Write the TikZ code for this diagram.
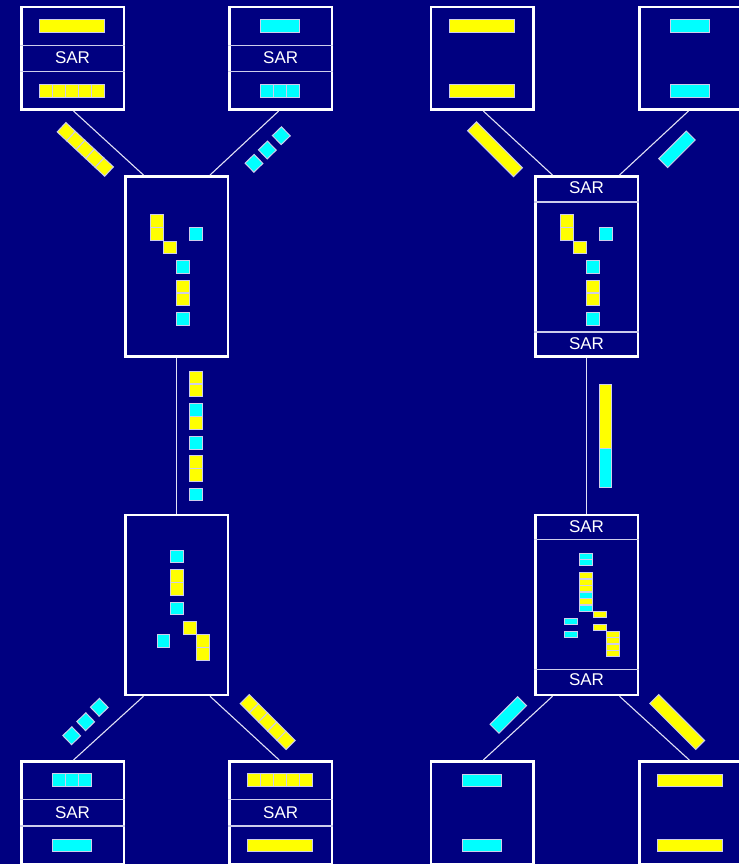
\documentclass[tikz,border=0pt]{standalone}
\usepackage{fontspec}
\setmainfont{Liberation Sans}
\definecolor{bg}{RGB}{0,0,128}
\definecolor{yel}{RGB}{255,255,0}
\definecolor{cya}{RGB}{0,255,255}
\definecolor{cellb}{RGB}{205,205,235}
\definecolor{linec}{RGB}{225,225,245}
\definecolor{divc}{RGB}{205,205,235}
\newcommand\onecell[3]{\filldraw[#1] ({#2+0.4},{#3+0.4}) rectangle ++(12.6,12.6);}
\newcommand\halfcell[3]{\filldraw[#1] ({#2+0.4},{#3+0.4}) rectangle ++(12.6,5.9);}
\newcommand\hcells[5]{\foreach \i in {1,...,#4} \filldraw[#1] ({#2+(\i-1)*13},#3) rectangle ++(13,#5);}
\begin{document}
\begin{tikzpicture}[x=1pt,y=-1pt,
  box/.style={draw=white, line width=2.5pt, minimum width=102.5pt, minimum height=102.5pt, inner sep=0pt},
  tall/.style={box, minimum height=180pt},
  conn/.style={draw=linec, line width=1.1pt},
  divider/.style={draw=divc, line width=1.4pt},
  lbl/.style={text=white, font=\fontsize{17}{17}\selectfont, inner sep=0pt},
  ycell/.style={fill=yel, draw=cellb, line width=1pt},
  ccell/.style={fill=cya, draw=cellb, line width=1pt}]
\fill[bg] (0,0) rectangle (739,864);
\useasboundingbox (0,0) rectangle (739,864);
\clip (0,0) rectangle (739,864);

% ---------- boxes ----------
\node[box] (t1) at (72.5,58.5) {};
\node[box] (t2) at (280.7,58.5) {};
\node[box] (t3) at (482.3,58.5) {};
\node[box] (t4) at (690.5,58.5) {};
\node[tall] (m1) at (176.5,266.3) {};
\node[tall] (m2) at (176.5,605) {};
\node[tall] (m3) at (586.5,266.3) {};
\node[tall] (m4) at (586.5,605) {};
\node[box] (b1) at (72.5,812.5) {};
\node[box] (b2) at (280.7,812.5) {};
\node[box] (b3) at (482.3,812.5) {};
\node[box] (b4) at (690.5,812.5) {};

% ---------- dividers ----------
\foreach \b in {t1,t2}{
  \draw[divider] (\b.west |- 0,45.7) -- (\b.east |- 0,45.7);
  \draw[divider] (\b.west |- 0,71.7) -- (\b.east |- 0,71.7);
}
\foreach \b in {b1,b2}{
  \draw[divider] (\b.west |- 0,799.3) -- (\b.east |- 0,799.3);
  \draw[divider] (\b.west |- 0,826) -- (\b.east |- 0,826);
}
\draw[divider] (m3.west |- 0,202) -- (m3.east |- 0,202);
\draw[divider] (m3.west |- 0,332) -- (m3.east |- 0,332);
\draw[divider] (m4.west |- 0,539.3) -- (m4.east |- 0,539.3);
\draw[divider] (m4.west |- 0,669.3) -- (m4.east |- 0,669.3);

% ---------- labels ----------
\node[lbl] (s1) at (72.5,57.9) {SAR};
\node[lbl] (s2) at (280.7,57.9) {SAR};
\node[lbl] (s3) at (72.5,813) {SAR};
\node[lbl] (s4) at (280.7,813) {SAR};
\node[lbl] (s5) at (586.5,187.8) {SAR};
\node[lbl] (s6) at (586.5,343.7) {SAR};
\node[lbl] (s7) at (586.5,527) {SAR};
\node[lbl] (s8) at (586.5,679.7) {SAR};

% ---------- connectors ----------
\draw[conn] ([xshift=1pt]t1.south) -- ([xshift=-33pt]m1.north);
\draw[conn] ([xshift=-2pt]t2.south) -- ([xshift=33.5pt]m1.north);
\draw[conn] (m1.south) -- (m2.north);
\draw[conn] ([xshift=-33pt]m2.south) -- ([xshift=1pt]b1.north);
\draw[conn] ([xshift=33.5pt]m2.south) -- ([xshift=-1.5pt]b2.north);
\draw[conn] ([xshift=1pt]t3.south) -- ([xshift=-34pt]m3.north);
\draw[conn] ([xshift=-2pt]t4.south) -- ([xshift=33pt]m3.north);
\draw[conn] (m3.south) -- (m4.north);
\draw[conn] ([xshift=-34pt]m4.south) -- ([xshift=1pt]b3.north);
\draw[conn] ([xshift=33pt]m4.south) -- ([xshift=-1.2pt]b4.north);

% ---------- contents of end boxes ----------
\filldraw[ycell] (39.8,19.5) rectangle (104.8,32.2);
\hcells{ycell}{39.8}{84.5}{5}{13.2}
\filldraw[ccell] (260.8,19.5) rectangle (299.8,32.2);
\hcells{ccell}{260.8}{84.5}{3}{13.2}
\filldraw[ycell] (449.8,19.8) rectangle (514.8,32.2);
\filldraw[ycell] (449.8,84.8) rectangle (514.8,97.2);
\filldraw[ccell] (670.8,19.8) rectangle (709.8,32.2);
\filldraw[ccell] (670.8,84.8) rectangle (709.8,97.2);
\hcells{ccell}{52.8}{773.8}{3}{13}
\filldraw[ccell] (52.8,839.2) rectangle (91.8,851.8);
\hcells{ycell}{247.8}{773.8}{5}{13}
\filldraw[ycell] (247.8,839.2) rectangle (312.8,851.8);
\filldraw[ccell] (462.8,774.2) rectangle (501.5,786.5);
\filldraw[ccell] (462.8,839.2) rectangle (501.5,851.5);
\filldraw[ycell] (657.5,774.2) rectangle (722.8,786.5);
\filldraw[ycell] (657.5,839.2) rectangle (722.8,851.5);

% ---------- middle box 1 and 3 cells ----------
\foreach \dx in {0,410}{
  \onecell{ycell}{150+\dx}{214.3}
  \onecell{ycell}{150+\dx}{227.3}
  \onecell{ycell}{163.3+\dx}{240.7}
  \onecell{ccell}{189+\dx}{227.3}
  \onecell{ccell}{176.3+\dx}{260}
  \onecell{ycell}{176.3+\dx}{279.7}
  \onecell{ycell}{176.3+\dx}{292.7}
  \onecell{ccell}{176.3+\dx}{312.3}
}
% ---------- vertical stream left ----------
\onecell{ycell}{189}{370.7}
\onecell{ycell}{189}{383.7}
\onecell{ccell}{189}{403.3}
\onecell{ycell}{189}{416.3}
\onecell{ccell}{189}{436}
\onecell{ycell}{189}{455.3}
\onecell{ycell}{189}{468.3}
\onecell{ccell}{189}{487.7}
% ---------- middle box 2 ----------
\onecell{ccell}{170}{549.7}
\onecell{ycell}{170}{569.3}
\onecell{ycell}{170}{582.3}
\onecell{ccell}{170}{601.7}
\onecell{ycell}{183}{621}
\onecell{ccell}{156.7}{634.3}
\onecell{ycell}{196}{634.3}
\onecell{ycell}{196}{647.3}
% ---------- vertical bar right ----------
\filldraw[ycell] (599.4,384.4) rectangle (611.9,448.7);
\filldraw[ccell] (599.4,448.7) rectangle (611.9,487.6);
% ---------- middle box 4 (half cells) ----------
\halfcell{ccell}{579.3}{552.7}
\halfcell{ccell}{579.3}{559.2}
\halfcell{ycell}{579.3}{572.3}
\halfcell{ycell}{579.3}{578.8}
\halfcell{ycell}{579.3}{585.3}
\halfcell{ccell}{579.3}{591.8}
\halfcell{ycell}{579.3}{598.3}
\halfcell{ccell}{579.3}{604.8}
\halfcell{ycell}{593}{611.3}
\halfcell{ccell}{564}{617.7}
\halfcell{ycell}{593}{624.3}
\halfcell{ccell}{564}{630.7}
\halfcell{ycell}{606}{631}
\halfcell{ycell}{606}{637.5}
\halfcell{ycell}{606}{644}
\halfcell{ycell}{606}{650.5}

% ---------- diagonal streams ----------
\begin{scope}[shift={(85.3,149.4)}, rotate=-43]
  \foreach \i in {0,...,4} \filldraw[ycell] ({-32.5+13*\i},-6.4) rectangle ++(13,12.8);
\end{scope}
\foreach \px/\py in {254/163.3,267.3/150,281.3/135.7,71.7/735.7,85.7/721.7,99.3/707.3}{
  \begin{scope}[shift={(\px,\py)}, rotate=44]
    \filldraw[ccell] (-6.3,-6.3) rectangle (6.3,6.3);
  \end{scope}
}
\begin{scope}[shift={(267.7,722)}, rotate=-45]
  \foreach \i in {0,...,4} \filldraw[ycell] ({-32.5+13*\i},-6.4) rectangle ++(13,12.8);
\end{scope}
\begin{scope}[shift={(495,149.3)}, rotate=-45]
  \filldraw[ycell] (-32.5,-6.3) rectangle (32.5,6.3);
\end{scope}
\begin{scope}[shift={(677,149.3)}, rotate=45]
  \filldraw[ccell] (-19.5,-6.3) rectangle (19.5,6.3);
\end{scope}
\begin{scope}[shift={(508.3,715)}, rotate=45]
  \filldraw[ccell] (-19.5,-6.3) rectangle (19.5,6.3);
\end{scope}
\begin{scope}[shift={(677.2,722)}, rotate=-45]
  \filldraw[ycell] (-32.5,-6.3) rectangle (32.5,6.3);
\end{scope}
\end{tikzpicture}
\end{document}
